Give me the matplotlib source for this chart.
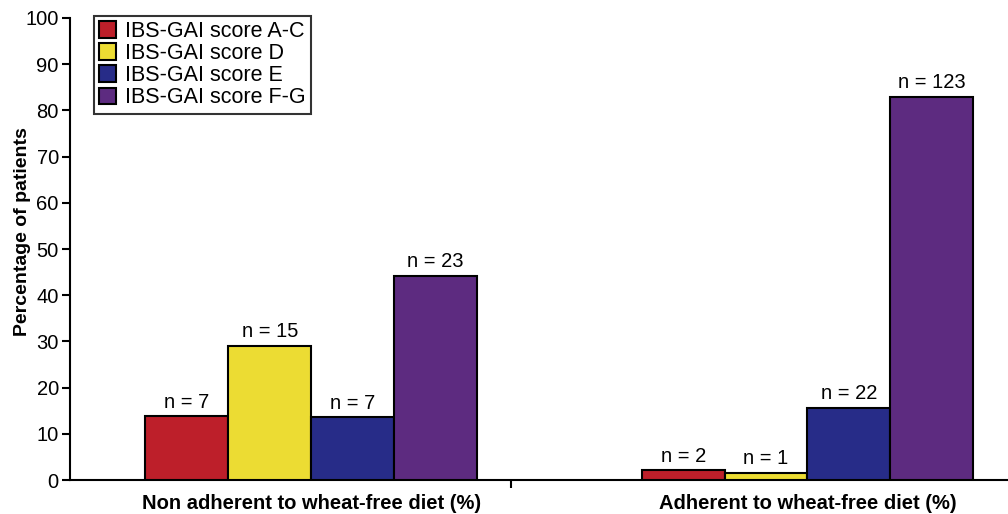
import matplotlib.pyplot as plt
import numpy as np

plt.rcParams['font.family'] = ['Liberation Sans', 'DejaVu Sans']

groups = ['Non adherent to wheat-free diet (%)', 'Adherent to wheat-free diet (%)']
series = ['IBS-GAI score A-C', 'IBS-GAI score D', 'IBS-GAI score E', 'IBS-GAI score F-G']
colors = ['#BD1F2A', '#ECDC33', '#272C88', '#5D2B80']
values = [
    [13.8, 2.1],
    [29.0, 1.6],
    [13.6, 15.6],
    [44.2, 82.9],
]
counts = [
    [7, 2],
    [15, 1],
    [7, 22],
    [23, 123],
]

fig = plt.figure(figsize=(10.08, 5.14), dpi=100)
ax = fig.add_axes([0.0694, 0.066, 0.935, 0.899])

x = np.arange(len(groups))
w = 0.167
for i in range(len(series)):
    pos = x + (i - 1.5) * w
    bars = ax.bar(pos, values[i], w, color=colors[i], edgecolor='black',
                  linewidth=1.5, label=series[i], zorder=3)
    for b, n in zip(bars, counts[i]):
        ax.text(b.get_x() + b.get_width() / 2, b.get_height() + 1.0, 'n = %d' % n,
                ha='center', va='bottom', fontsize=14.5)

ax.set_ylim(0, 100)
ax.set_yticks(range(0, 101, 10))
ax.set_xlim(-0.486, 1.413)
ax.set_xticks([0.403])
ax.set_xticklabels([''])
for xi, g in zip(x, groups):
    ax.text(xi, -3.0, g, ha='center', va='top', fontsize=14.5, fontweight='bold')
ax.set_ylabel('Percentage of patients', fontsize=14, fontweight='bold')
ax.yaxis.set_label_coords(-0.041, 0.537)
ax.tick_params(axis='y', labelsize=14.5, length=6, width=1.5, direction='out', pad=2)
ax.tick_params(axis='x', length=6, width=1.5, direction='out')
for s in ['top', 'right']:
    ax.spines[s].set_visible(False)
for s in ['left', 'bottom']:
    ax.spines[s].set_linewidth(1.5)

leg = ax.legend(loc='upper left', bbox_to_anchor=(0.025, 1.005), fontsize=15.5,
                frameon=True, fancybox=False, handlelength=0.8, handleheight=0.8,
                handletextpad=0.4, labelspacing=0.05, borderpad=0.25, borderaxespad=0)
leg.get_frame().set_edgecolor('black')
leg.get_frame().set_linewidth(1.5)

fig.savefig('out.png', dpi=100)
